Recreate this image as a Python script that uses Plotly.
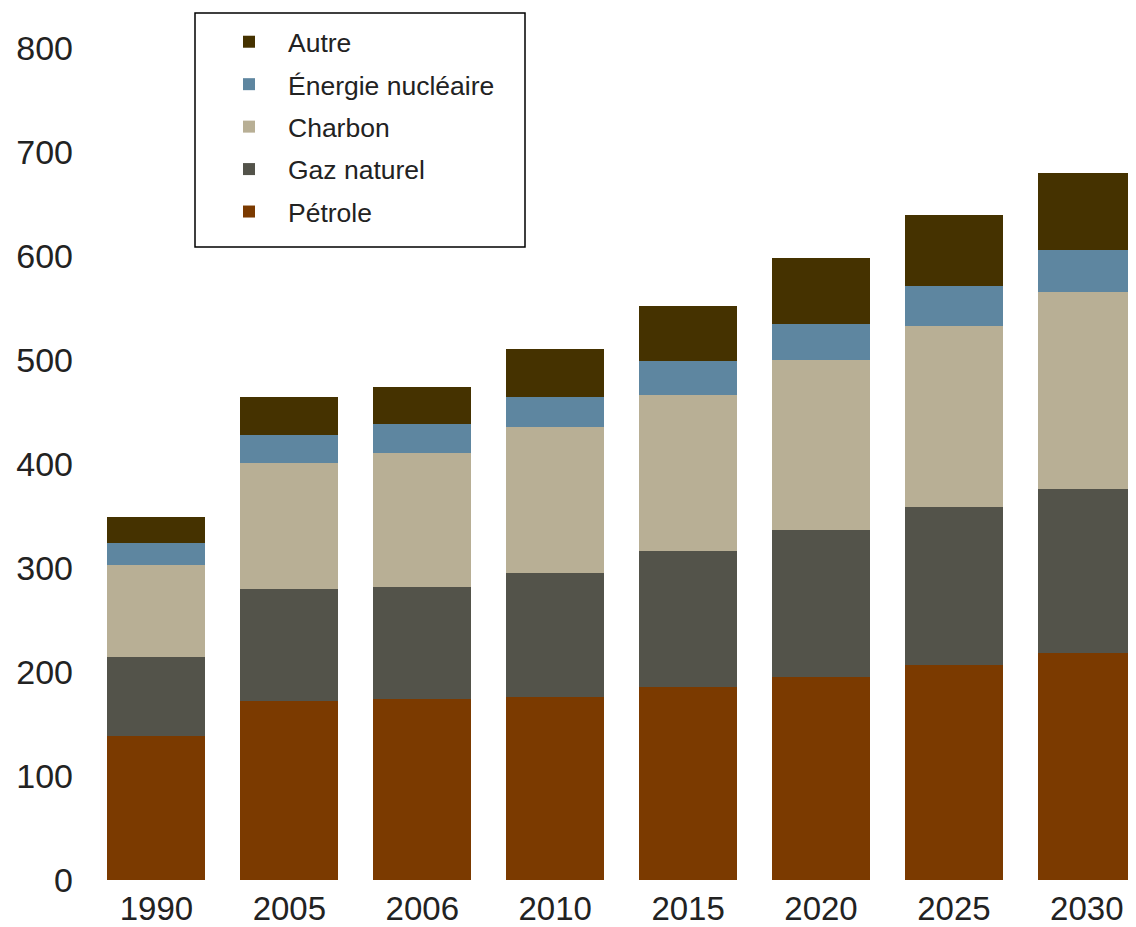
import plotly.graph_objects as go

years = ["1990", "2005", "2006", "2010", "2015", "2020", "2025", "2030"]
petrole = [138, 172, 174, 176, 186, 195, 207, 218]
gaz = [76, 108, 108, 119, 130, 142, 152, 158]
charbon = [89, 121, 129, 141, 150, 163, 174, 189]
nucleaire = [21, 27, 27, 28, 33, 35, 38, 41]
autre = [25, 36, 36, 47, 53, 63, 68, 74]

series = [
    ("Pétrole", petrole, "#7B3A00", 5),
    ("Gaz naturel", gaz, "#53534A", 4),
    ("Charbon", charbon, "#B8AF95", 3),
    ("Énergie nucléaire", nucleaire, "#5E86A0", 2),
    ("Autre", autre, "#453200", 1),
]

fig = go.Figure()
for name, vals, col, rank in series:
    fig.add_trace(go.Bar(
        x=list(range(len(years))), y=vals, name=name, legendgroup=name,
        legendrank=rank,
        marker=dict(color=col, line=dict(width=0)), width=0.737,
    ))

# page body has an 8px margin: figure pixel = screen pixel - 8
W, H = 1128, 919
L, R = 82, 0
TOP, BOTTOM = 2, 872
PW = W - L - R
PH = BOTTOM - TOP
ymax = 800 * PH / (BOTTOM - 40)


def px(x):
    return (x - L) / PW


def py(y):
    return (BOTTOM - y) / PH


font_family = "Liberation Sans, Arial, Helvetica, sans-serif"
fig.update_layout(
    width=W, height=H,
    barmode="stack",
    paper_bgcolor="white", plot_bgcolor="white",
    margin=dict(l=L, r=R, t=TOP, b=H - BOTTOM),
    font=dict(family=font_family, color="#222222", size=34),
    xaxis=dict(
        range=[-0.5, 7.37], tickmode="array",
        tickvals=list(range(len(years))), ticktext=years,
        showgrid=False, zeroline=False, showline=False, ticks="",
        tickfont=dict(size=33), automargin=False, ticklabelstandoff=6,
    ),
    yaxis=dict(
        range=[0, ymax], tickmode="array",
        tickvals=[0, 100, 200, 300, 400, 500, 600, 700, 800],
        showgrid=False, zeroline=False,
        showline=False, ticks="", tickfont=dict(size=34),
        ticklabelstandoff=16, automargin=False,
    ),
    legend=dict(
        x=px(202), y=py(10),
        xanchor="left", yanchor="top",
        borderwidth=0, bgcolor="rgba(0,0,0,0)",
        font=dict(size=26.5, color="#222222"),
        traceorder="grouped", tracegroupgap=5,
        itemwidth=68,
    ),
    shapes=[dict(
        type="rect", xref="paper", yref="paper",
        x0=px(187), x1=px(517), y0=py(239), y1=py(5),
        line=dict(color="#000000", width=1.5), fillcolor="rgba(0,0,0,0)",
        layer="above",
    )],
    showlegend=True,
)

fig.write_html("out.html")
